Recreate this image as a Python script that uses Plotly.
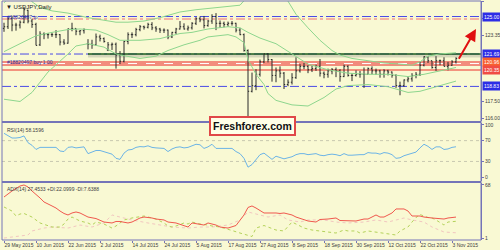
import plotly.graph_objects as go

# ---------------- data ----------------
bar_idx = list(range(114))
opens = [123.95,124.10,124.80,124.25,124.25,124.50,125.55,124.60,124.30,122.50,123.45,123.40,123.40,123.40,123.40,122.75,122.65,123.90,123.95,123.70,
         123.75,122.60,122.55,122.50,123.20,123.05,122.05,122.50,122.55,121.60,121.05,122.80,123.40,123.40,123.85,124.10,124.05,124.30,124.00,123.90,
         123.80,123.80,123.20,123.60,123.90,124.10,123.90,124.00,124.40,124.80,124.70,124.20,124.60,125.00,124.40,124.40,124.30,124.40,124.40,123.80,
         123.40,122.00,118.40,118.90,119.90,121.00,121.70,121.20,119.80,120.20,120.00,119.00,119.20,119.60,120.20,120.60,120.60,120.30,120.40,120.60,
         120.00,119.90,120.20,120.30,120.20,119.70,120.60,119.80,119.80,119.90,119.90,119.90,120.40,120.20,120.20,119.90,120.20,120.10,119.80,118.90,
         118.90,119.40,119.50,119.80,119.90,120.70,121.45,121.10,120.50,121.10,121.10,120.60,120.70,121.00]
highs = [124.45,124.90,125.05,124.45,124.65,125.85,125.60,124.80,124.45,123.70,123.60,123.55,123.55,123.80,123.45,123.00,123.95,124.45,123.95,123.80,
         123.95,123.00,122.95,123.50,123.40,123.15,122.75,122.70,122.70,121.95,122.85,123.60,123.60,124.00,124.25,124.20,124.45,124.50,124.15,124.00,
         123.95,123.85,123.65,124.00,124.60,124.40,124.20,124.50,124.95,125.00,125.05,124.70,125.20,125.30,124.65,124.55,124.55,124.60,124.45,124.00,
         123.50,122.10,120.05,120.35,121.20,121.75,121.75,121.25,120.50,120.60,120.10,119.45,120.00,121.40,120.80,120.90,120.70,120.65,120.75,121.25,
         120.15,120.40,120.45,120.50,120.35,120.75,120.70,120.00,120.25,120.20,120.50,120.50,120.60,120.40,120.30,120.35,120.30,120.15,119.90,119.25,
         119.45,119.70,120.00,120.10,121.00,121.50,121.50,121.10,121.50,121.20,121.40,121.00,121.15,121.40]
lows = [123.65,123.90,123.70,123.75,123.95,124.40,124.40,124.00,122.45,122.40,123.00,123.05,123.20,123.10,122.45,122.50,122.60,123.70,123.35,123.35,
        123.50,122.10,122.15,122.45,122.80,122.70,121.95,122.05,120.40,120.80,120.95,122.55,123.10,123.25,123.70,123.85,123.95,123.80,123.65,123.55,
        123.55,123.00,123.10,123.45,123.85,123.85,123.75,123.85,124.25,124.50,123.95,124.10,124.35,123.80,124.00,124.05,124.10,124.20,123.60,123.35,
        121.90,116.15,118.30,118.50,119.70,120.90,120.95,119.25,119.20,119.60,118.60,118.85,119.00,119.50,120.05,120.35,120.00,120.10,120.20,119.70,
        119.55,119.60,119.90,119.65,119.25,119.65,119.70,119.30,119.70,119.60,118.70,119.90,119.90,119.85,119.60,119.60,119.80,119.60,118.70,118.05,
        118.80,119.20,119.25,119.55,119.75,120.60,120.90,120.40,120.20,120.70,120.60,120.25,120.65,120.85]
closes = [124.10,124.80,124.25,124.25,124.50,125.60,124.60,124.30,122.45,123.45,123.40,123.40,123.40,123.40,122.75,122.65,123.90,123.95,123.70,123.75,
          123.85,122.55,122.50,123.20,123.05,122.80,122.50,122.55,121.60,121.05,122.80,123.40,123.40,123.85,124.10,124.05,124.30,124.00,123.90,123.80,
          123.80,123.20,123.60,123.90,124.10,123.90,124.00,124.40,124.80,124.70,124.20,124.60,125.00,124.40,124.40,124.30,124.40,124.40,123.80,123.40,
          122.00,118.40,118.90,119.90,121.00,121.70,121.20,119.80,120.20,120.00,119.00,119.20,119.60,120.20,120.60,120.60,120.30,120.40,120.60,120.00,
          119.90,120.20,120.30,120.20,119.70,120.60,119.80,119.80,119.90,119.90,119.90,120.40,120.20,120.20,119.90,120.20,120.10,119.80,118.90,118.90,
          119.40,119.50,119.80,119.90,120.70,121.45,121.10,120.50,121.10,121.10,120.60,120.70,121.00,121.30]

# Bollinger bands (bar index, price)
bb_up_idx = [0,1,3,5,7,9,12,16,21,26,28,31,35,39,44,48,52,56,59,60,61,65,70,71,73,76,79,82,84,87,91,95,99,102,104,106,109,113]
bb_up_val = [126.2,126.6,127.2,127.5,126.3,125.8,125.5,125.3,124.9,124.6,124.5,124.5,124.6,124.9,125.4,125.6,125.75,125.85,126.0,126.4,127.5,128.5,127.5,126.35,125.2,124.0,122.9,122.0,121.6,121.3,121.1,120.9,120.8,120.7,121.0,121.5,121.7,121.8]
bb_mid_idx = [0,4,8,12,16,19,23,26,29,34,39,44,47,51,56,59,61,64,68,72,76,81,86,91,96,101,105,109,113]
bb_mid_val = [121.9,122.6,123.3,123.6,123.85,123.9,123.8,123.4,122.9,122.9,123.05,123.5,123.6,123.9,124.1,124.0,123.6,123.1,122.6,121.7,120.8,120.3,120.0,119.9,119.9,119.7,119.9,120.2,120.5]
bb_low_idx = [0,4,7,11,16,18,21,25,28,29,34,38,41,45,49,51,56,58,60,61,63,65,66,68,72,76,80,83,86,91,96,99,101,104,108,113]
bb_low_val = [117.7,117.5,118.3,120.1,121.7,122.4,122.6,122.3,121.7,121.6,121.3,121.5,122.0,122.5,122.9,123.2,123.4,123.2,122.7,121.2,119.9,119.0,118.2,117.6,117.2,117.1,117.85,118.6,118.9,119.0,118.8,118.5,118.3,118.4,118.8,119.3]

rsi = [84,80,75,75,76,79,66,61,53,57,57,57,57,57,50,49,57,58,56,57,58,45,48,51,51,49,46,44,36,34,
       46,52,53,57,58.5,58,60,57,56,55,55,49,54,57,58,56,57,60,63,62,55,58,63,55,55,54,55,55,49,45,
       36,19,24,34,43,46,40,34,40,38,35,37,39,43,45,45,43,44,45,42,41,43,44,43,41,45,42,42,43,43,
       43,47,46,46,44,47,46,43,36,37,41,43,46,48,56,63,59,53,58,58,53,54,57,58.16]

adx_idx = [0,1,2,4,5,6,7,9,10,12,13,14,15,16,17,18,19,21,23,25,27,28,29,31,32,34,35,37,38,40,41,43,45,46,47,49,50,51,53,54,56,58,59,60,61,62,63,65,68,69,70,72,73,76,78,79,81,83,84,86,88,90,91,93,94,95,97,98,100,101,102,104,105,107,109,110,111,113]
adx_val = [52.8,56.6,60.4,66.7,68,65.5,60.4,51.6,46.5,41.5,38.9,35.1,32,30.1,32.6,33.9,32.6,27.5,25.6,21.2,20,21.9,21.9,20,21.2,26.3,27.5,26.3,25,23.8,21.2,20,16.8,14.9,20,18.7,17.4,20,17.4,14.9,13.6,16.8,23.8,30.1,39.6,41.5,38.9,32.6,32.6,32,32.6,30.1,27.5,22.5,21.2,24.4,25,26.3,23.1,22.5,22.5,25,25,30.1,27.5,27.5,32.6,37.7,37.7,35.1,28.8,28.8,27.5,26.3,25,25,26.3,27.45]
pdi_idx = [0,2,3,4,5,6,7,9,11,12,14,15,16,17,19,21,22,23,25,26,27,28,29,30,32,34,35,37,38,40,41,42,43,45,46,47,49,51,52,54,56,57,59,61,62,63,65,66,68,70,71,72,74,75,77,79,81,83,85,86,88,89,91,93,94,96,98,99,101,102,103,104,106,107,108,110,111,113]
pdi_val = [40.2,35.1,28.8,31.3,32,30.1,27.5,20,16.8,14.9,14.9,18.7,25,27.5,22.5,20,17.4,21.2,18.7,16.2,13.6,16.2,20,23.8,26.3,28.2,28.8,26.3,25,20,16.2,14.9,16.2,20,18.7,21.2,18.7,17.4,16.2,14.9,12.4,10.5,7.3,4.8,2.9,13.6,16.8,14.9,11.1,9.9,14.9,21.2,16.2,13.6,11.1,9.9,8.6,7.3,11.1,9.9,9.9,7.3,9.9,8.6,7.3,6.1,4.8,9.9,14.9,21.2,26.9,30.7,26.9,26.3,23.8,17.4,21.2,22.1]
mdi_idx = [0,6,7,10,12,16,19,22,25,27,29,32,36,39,42,46,49,52,56,59,61,64,66,69,71,74,76,80,83,86,90,93,96,100,102,105,107,110,113]
mdi_val = [1.0,4.8,9.9,13.6,14.9,13.6,17.4,14.9,20,30.1,27.5,23.8,20,17.4,14.9,13.6,14.9,14.9,17.4,23.8,33.9,30.1,27.5,30.1,23.8,21.2,23.8,23.8,21.2,20,21.2,23.8,21.2,26.3,23.8,21.2,14.9,8.6,7.64]

tick_pos = [0,8,16,24,32,40,48,56,64,72,80,88,96,104,112]
tick_labels = ["29 May 2015","10 Jun 2015","22 Jun 2015","2 Jul 2015","14 Jul 2015","24 Jul 2015","5 Aug 2015",
               "17 Aug 2015","27 Aug 2015","8 Sep 2015","18 Sep 2015","30 Sep 2015","12 Oct 2015","22 Oct 2015","3 Nov 2015"]

price_ticks = [126.35, 124.85, 123.35, 117.50, 116.00]
level_tp = 125.00
level_tp2 = 124.78
level_res = 121.69
level_open = 120.85
level_open_lbl = 120.96
level_sl = 120.28
level_sup = 118.83
res_start_idx = 21
arrow_tail = (113.5, 121.15)
arrow_head = (118.0, 123.9)

# ---------------- styling ----------------
BG = "#F9F9D3"
FRAME = "#7474B8"
TXT = "#404040"
FONT = "Liberation Sans"
BB_COL = "#8ED68E"

fig = go.Figure()

fig.add_trace(go.Ohlc(x=bar_idx, open=opens, high=highs, low=lows, close=closes,
                      increasing_line_color="#2A2A2A", decreasing_line_color="#2A2A2A",
                      line_width=1, tickwidth=0.3, xaxis="x", yaxis="y", hoverinfo="skip"))
for ix, vals in ((bb_up_idx, bb_up_val), (bb_mid_idx, bb_mid_val), (bb_low_idx, bb_low_val)):
    fig.add_trace(go.Scatter(x=ix, y=vals, mode="lines", line=dict(color=BB_COL, width=1),
                             xaxis="x", yaxis="y", hoverinfo="skip"))

fig.add_trace(go.Scatter(x=bar_idx, y=rsi, mode="lines", line=dict(color="#6CB4E6", width=1),
                         xaxis="x", yaxis="y2", hoverinfo="skip"))

fig.add_trace(go.Scatter(x=mdi_idx, y=mdi_val, mode="lines", line=dict(color="#F2C6C0", width=1, dash="dot"),
                         xaxis="x", yaxis="y3", hoverinfo="skip"))
fig.add_trace(go.Scatter(x=pdi_idx, y=pdi_val, mode="lines", line=dict(color="#B4D25A", width=1, dash="dot"),
                         xaxis="x", yaxis="y3", hoverinfo="skip"))
fig.add_trace(go.Scatter(x=adx_idx, y=adx_val, mode="lines", line=dict(color="#F0584E", width=1),
                         xaxis="x", yaxis="y3", hoverinfo="skip"))

shapes = []
def hline(y, color, width, dash="solid", x0=-0.5, x1=119.25, yref="y"):
    shapes.append(dict(type="line", xref="x", yref=yref, x0=x0, x1=x1, y0=y, y1=y,
                       line=dict(color=color, width=width, dash=dash), layer="below"))

hline(level_tp, "#4A4AE6", 1, "dashdot")
hline(level_tp2, "#F07070", 1, "dashdot")
hline(level_res, "#4A4AE6", 1, "dashdot")
shapes.append(dict(type="rect", xref="x", yref="y", x0=res_start_idx, x1=119.25, y0=level_res - 0.3, y1=level_res,
                   fillcolor="rgba(150,150,140,0.35)", line=dict(width=0), layer="below"))
hline(level_res, "#1E5E1E", 1.6, "solid", x0=res_start_idx)
hline(level_open, "#F28C7C", 5)
hline(level_open, "#FFFFFF", 1, "dash")
hline(level_sl, "#F07262", 1.5)
hline(level_sup, "#4A4AE6", 1, "dashdot")
hline(70, "#C8C8B0", 1, "dot", yref="y2")
hline(30, "#C8C8B0", 1, "dot", yref="y2")

# frames
shapes.append(dict(type="rect", xref="paper", yref="paper", x0=0, x1=1, y0=0, y1=1,
                   line=dict(color=FRAME, width=1)))
for yy in (0.4937, 0.2427):
    shapes.append(dict(type="line", xref="paper", yref="paper", x0=0, x1=1, y0=yy, y1=yy,
                       line=dict(color=FRAME, width=2)))

ann = []
small = dict(family=FONT, size=5, color=TXT)
ann.append(dict(xref="paper", yref="paper", x=0, y=1, xanchor="left", yanchor="top", xshift=2, yshift=-1,
                text="▼ USDJPY,Daily", showarrow=False, font=dict(family=FONT, size=6, color="#202020")))
ann.append(dict(xref="paper", yref="y", x=0, y=level_tp, xanchor="left", yanchor="middle", xshift=3,
                text="#18820497 tp", showarrow=False, font=dict(family=FONT, size=5, color="#3030A0")))
ann.append(dict(xref="paper", yref="y", x=0, y=level_open_lbl, xanchor="left", yanchor="middle", xshift=3,
                text="#18820497 buy 1.00", showarrow=False, font=dict(family=FONT, size=5, color="#3030A0")))
ann.append(dict(xref="paper", yref="paper", x=0, y=0.4895, xanchor="left", yanchor="top", xshift=3, yshift=-2,
                text="RSI(14) 58.1596", showarrow=False, font=small))
ann.append(dict(xref="paper", yref="paper", x=0, y=0.2385, xanchor="left", yanchor="top", xshift=3, yshift=-1,
                text="ADX(14) 27.4533 +DI:22.0999 -DI:7.6388", showarrow=False, font=small))

for val, txt, col in ((level_tp, "125.00", "#2D2DE6"), (level_res, "121.69", "#2D2DE6"),
                      (level_open_lbl, "120.96", "#F8602E"), (level_sl, "120.35", "#F04C44"),
                      (level_sup, "118.83", "#2D2DE6")):
    ann.append(dict(xref="paper", yref="y", x=1, y=val, xanchor="left", yanchor="middle", xshift=1,
                    text=txt, showarrow=False, bgcolor=col, borderpad=1,
                    font=dict(family=FONT, size=5, color="#FFFFFF")))

ann.append(dict(x=arrow_head[0], y=arrow_head[1], ax=arrow_tail[0], ay=arrow_tail[1], xref="x", yref="y",
                axref="x", ayref="y", showarrow=True, arrowhead=2, arrowsize=1.2, arrowwidth=2,
                arrowcolor="#E01010", text=""))
ann.append(dict(xref="paper", yref="paper", x=0.524, y=0.475, xanchor="center", yanchor="middle",
                text="<b>Freshforex.com</b>", showarrow=False, bgcolor="#FFFFE6", bordercolor="#E04848",
                borderwidth=2, borderpad=2, font=dict(family=FONT, size=10.5, color="#111111")))

axis_common = dict(showgrid=False, zeroline=False, side="right", ticks="outside", ticklen=2,
                   tickcolor=FRAME, showline=True, linecolor=FRAME, linewidth=1,
                   tickfont=small, fixedrange=True, automargin=False)

fig.update_layout(
    width=500, height=250, margin=dict(l=2, r=19, t=1, b=10, autoexpand=False),
    paper_bgcolor=BG, plot_bgcolor=BG, showlegend=False,
    xaxis=dict(range=[-0.5, 119.25], anchor="y3", tickvals=tick_pos, ticktext=tick_labels,
               ticks="outside", ticklen=2, tickcolor=FRAME, ticklabelposition="outside right",
               tickangle=0, tickfont=small, showgrid=False, zeroline=False,
               rangeslider=dict(visible=False), showline=False, automargin=False),
    yaxis=dict(domain=[0.498, 1], range=[115.78, 126.37], tickvals=price_ticks,
               ticktext=[f"{v:.2f}" for v in price_ticks], **axis_common),
    yaxis2=dict(domain=[0.247, 0.4895], range=[-7.5, 103.8], tickvals=[100, 70, 30, 0],
                ticktext=["100", "70", "30", "0"], **axis_common),
    yaxis3=dict(domain=[0, 0.2385], range=[-1.5, 70.5], tickvals=[68, 1],
                ticktext=["68", "1"], **axis_common),
    shapes=shapes, annotations=ann,
)
for ax in ("yaxis", "yaxis2", "yaxis3"):
    fig.layout[ax].anchor = "x"

fig.write_html("out.html")
